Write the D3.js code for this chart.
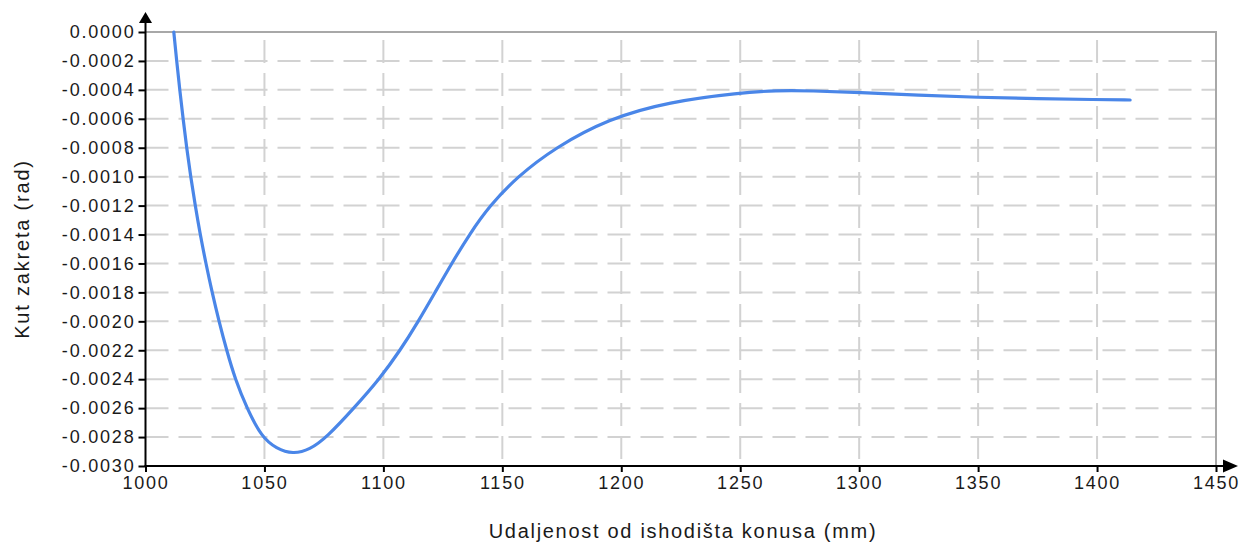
<!DOCTYPE html>
<html><head><meta charset="utf-8">
<script src="https://cdn.jsdelivr.net/npm/d3@7"></script>
<style>
html,body{margin:0;padding:0;background:#fff;}
svg{display:block;}
text{font-family:"Liberation Sans",Arial,sans-serif;fill:#1a1a1a;}
</style></head><body>
<svg id="c" width="1242" height="545"></svg>
<script>
const xValues = [1011.9,1013.1,1014.4,1015.8,1017.3,1019.0,1020.9,1023.0,1025.4,1028.0,1030.9,1034.1,1037.7,1042.6,1048.8,1055.0,1062.0,1069.0,1076.3,1087.6,1098.3,1107.1,1114.7,1121.7,1128.7,1136.1,1144.7,1156.3,1172.1,1194.5,1220,1250,1265,1280,1300,1325,1350,1375,1400,1413.9];
const yValues = [0,-0.0002,-0.0004,-0.0006,-0.0008,-0.0010,-0.0012,-0.0014,-0.0016,-0.0018,-0.0020,-0.0022,-0.0024,-0.0026,-0.0028,-0.00288,-0.002918,-0.002888,-0.0028,-0.0026,-0.0024,-0.0022,-0.0020,-0.0018,-0.0016,-0.0014,-0.0012,-0.0010,-0.0008,-0.0006,-0.000482,-0.00042,-0.000404,-0.000406,-0.000418,-0.000437,-0.000452,-0.000461,-0.000467,-0.00047];
const xTicks = [1000,1050,1100,1150,1200,1250,1300,1350,1400,1450];
const yTicks = [0,-0.0002,-0.0004,-0.0006,-0.0008,-0.0010,-0.0012,-0.0014,-0.0016,-0.0018,-0.0020,-0.0022,-0.0024,-0.0026,-0.0028,-0.0030];
const xTitle = "Udaljenost od ishodišta konusa (mm)";
const yTitle = "Kut zakreta (rad)";

const L = 145.5, R = 1216, T = 32, B = 466;
const svg = d3.select("#c");
const x = d3.scaleLinear().domain([1000,1450]).range([L,R]);
const y = d3.scaleLinear().domain([0,-0.003]).range([T,B]);

// grid
const g = svg.append("g");
g.selectAll(".hg").data(yTicks.filter(v=>v!==0 && v!==-0.003)).join("line")
  .attr("x1",L).attr("x2",R).attr("y1",d=>y(d)).attr("y2",d=>y(d))
  .attr("stroke","#d2d2d2").attr("stroke-width",2).attr("stroke-dasharray","23,10");
g.selectAll(".vg").data(xTicks.filter(v=>v!==1000 && v!==1450)).join("line")
  .attr("x1",d=>x(d)).attr("x2",d=>x(d)).attr("y1",T).attr("y2",B)
  .attr("stroke","#d2d2d2").attr("stroke-width",2).attr("stroke-dasharray","23,10").attr("stroke-dashoffset",25);
// frame
g.append("path").attr("d",`M${L},${T}H${R}V${B}`).attr("fill","none").attr("stroke","#a8a8a8").attr("stroke-width",2);

// curve
const line = d3.line().x((d,i)=>x(xValues[i])).y((d,i)=>y(yValues[i])).curve(d3.curveBasis);
svg.append("path").datum(xValues).attr("d",line).attr("fill","none")
  .attr("stroke","#4a86e8").attr("stroke-width",3.2).attr("stroke-linecap","round").attr("stroke-linejoin","round");

// axes
const fmt = d3.format(".4f");
const yAxis = d3.axisLeft(y).tickValues(yTicks).tickSize(7).tickPadding(3).tickFormat(d=>fmt(d).replace("−","-"));
const ya = svg.append("g").attr("transform",`translate(${L},0)`).call(yAxis);
ya.select(".domain").remove();
ya.selectAll(".tick line").attr("stroke","#000").attr("stroke-width",2);
ya.selectAll(".tick text").attr("font-size",18).attr("letter-spacing","1.8px").attr("fill","#1a1a1a").attr("font-family","Liberation Sans, Arial, sans-serif");

const xAxis = d3.axisBottom(x).tickValues(xTicks).tickSize(6).tickPadding(4).tickFormat(d3.format("d"));
const xa = svg.append("g").attr("transform",`translate(0,${B})`).call(xAxis);
xa.select(".domain").remove();
xa.selectAll(".tick line").attr("stroke","#000").attr("stroke-width",2);
xa.selectAll(".tick text").attr("font-size",18).attr("letter-spacing","1.8px").attr("fill","#1a1a1a").attr("font-family","Liberation Sans, Arial, sans-serif");

// axis lines with arrows
svg.append("line").attr("x1",L).attr("x2",L).attr("y1",B+1).attr("y2",22).attr("stroke","#000").attr("stroke-width",2);
svg.append("path").attr("d",`M${L-6.5},23L${L},12L${L+6.5},23Z`).attr("fill","#000");
svg.append("line").attr("x1",L-1).attr("x2",1224).attr("y1",B).attr("y2",B).attr("stroke","#000").attr("stroke-width",2);
svg.append("path").attr("d",`M1223,${B-6.5}L1238,${B}L1223,${B+6.5}Z`).attr("fill","#000");

// titles
svg.append("text").attr("x",683).attr("y",538).attr("text-anchor","middle")
  .attr("font-size",20).attr("letter-spacing","1.7px").text(xTitle);
svg.append("text").attr("transform","translate(29,249) rotate(-90)").attr("text-anchor","middle")
  .attr("font-size",20).attr("letter-spacing","1.8px").text(yTitle);
</script>
</body></html>
